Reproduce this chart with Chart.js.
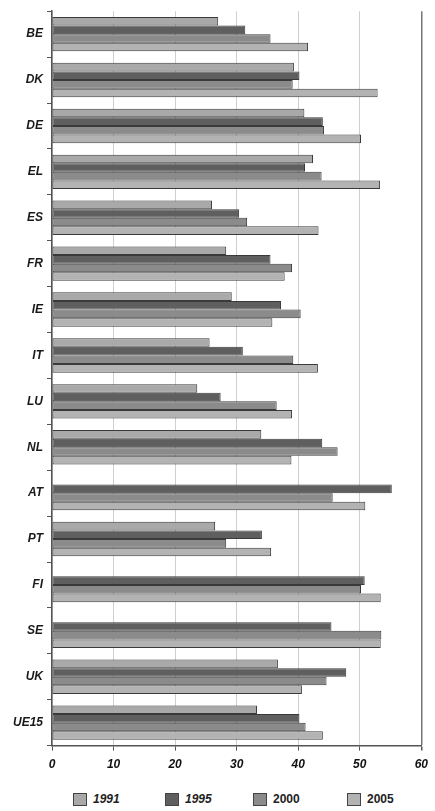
<!DOCTYPE html>
<html>
<head>
<meta charset="utf-8">
<script src="https://cdn.jsdelivr.net/npm/chart.js@4/dist/chart.umd.min.js"></script>
<style>
  html, body { margin: 0; padding: 0; background: #fff; }
  #wrap { position: relative; width: 435px; height: 785px; }
  #legend { position: absolute; top: 792px; left: 0; width: 435px; height: 18px;
    font-family: "Liberation Sans", Arial, sans-serif; font-weight: bold;
    font-size: 12px; color: #222; }
  .item { position: absolute; top: 0; display: flex; align-items: center; }
  .box { width: 14px; height: 13px; border: 1px solid #444; margin-right: 6px; box-sizing: border-box; }
</style>
</head>
<body>
<div id="wrap"><canvas id="c"></canvas></div>
<div id="legend"></div>
<script>
const categories = ["BE","DK","DE","EL","ES","FR","IE","IT","LU","NL","AT","PT","FI","SE","UK","UE15"];
const seriesNames = ["1991","1995","2000","2005"];
const v1991 = [27, 39.3, 41, 42.4, 26, 28.3, 29.2, 25.6, 23.6, 34, null, 26.5, null, null, 36.7, 33.3];
const v1995 = [31.4, 40.2, 44, 41.1, 30.4, 35.5, 37.2, 31, 27.4, 43.9, 55.2, 34.1, 50.8, 45.4, 47.8, 40.2];
const v2000 = [35.5, 39.1, 44.2, 43.8, 31.7, 39, 40.4, 39.2, 36.5, 46.4, 45.6, 28.3, 50.2, 53.5, 44.6, 41.2];
const v2005 = [41.6, 52.9, 50.2, 53.3, 43.3, 37.8, 35.8, 43.2, 39, 38.9, 50.9, 35.6, 53.4, 53.4, 40.6, 44];
const xTicks = [0, 10, 20, 30, 40, 50, 60];
const colors = ["#a9a9a9", "#5f5f5f", "#8b8b8b", "#b3b3b3"];
const legendItalic = [true, true, false, false];

const values = [v1991, v1995, v2000, v2005];
const datasets = seriesNames.map((n, i) => ({
  label: n,
  data: values[i],
  backgroundColor: colors[i],
  borderColor: "#3a3a3a",
  borderWidth: 1,
  borderSkipped: false,
  categoryPercentage: 0.75,
  barPercentage: 1.0
}));

const catFont = { family: "'Liberation Sans', Arial, sans-serif", size: 12, weight: "bold", style: "italic" };

new Chart(document.getElementById("c"), {
  type: "bar",
  data: { labels: categories, datasets },
  options: {
    indexAxis: "y",
    responsive: true,
    maintainAspectRatio: false,
    animation: false,
    layout: { padding: { top: 0, right: 5, bottom: 6, left: 0 } },
    plugins: { legend: { display: false }, tooltip: { enabled: false } },
    scales: {
      x: {
        min: 0, max: 60,
        afterBuildTicks: (s) => { s.ticks = xTicks.map(v => ({ value: v })); },
        ticks: { color: "#111", font: { family: "'Liberation Sans', Arial, sans-serif", size: 12, weight: "bold", style: "italic" }, padding: 7 },
        grid: {
          color: (ctx) => ctx.tick && ctx.tick.value === 60 ? "#777" : "#cfcfcf",
          lineWidth: (ctx) => ctx.tick && ctx.tick.value === 60 ? 1.5 : 1,
          tickLength: 5,
          tickColor: "#555"
        },
        border: { color: "#555", width: 1.5 }
      },
      y: {
        afterFit: (s) => { s.width = 52; },
        ticks: { color: "#1a1a1a", font: catFont, padding: 4 },
        grid: { offset: true, drawOnChartArea: false, tickLength: 5, color: "#555" },
        border: { color: "#555", width: 1.5 }
      }
    }
  }
});

const lg = document.getElementById("legend");
const lefts = [73, 165, 253, 347];
seriesNames.forEach((n, i) => {
  const d = document.createElement("div");
  d.className = "item";
  d.style.left = lefts[i] + "px";
  d.style.fontStyle = legendItalic[i] ? "italic" : "normal";
  d.innerHTML = '<span class="box" style="background:' + colors[i] + '"></span><span>' + n + '</span>';
  lg.appendChild(d);
});
</script>
</body>
</html>
